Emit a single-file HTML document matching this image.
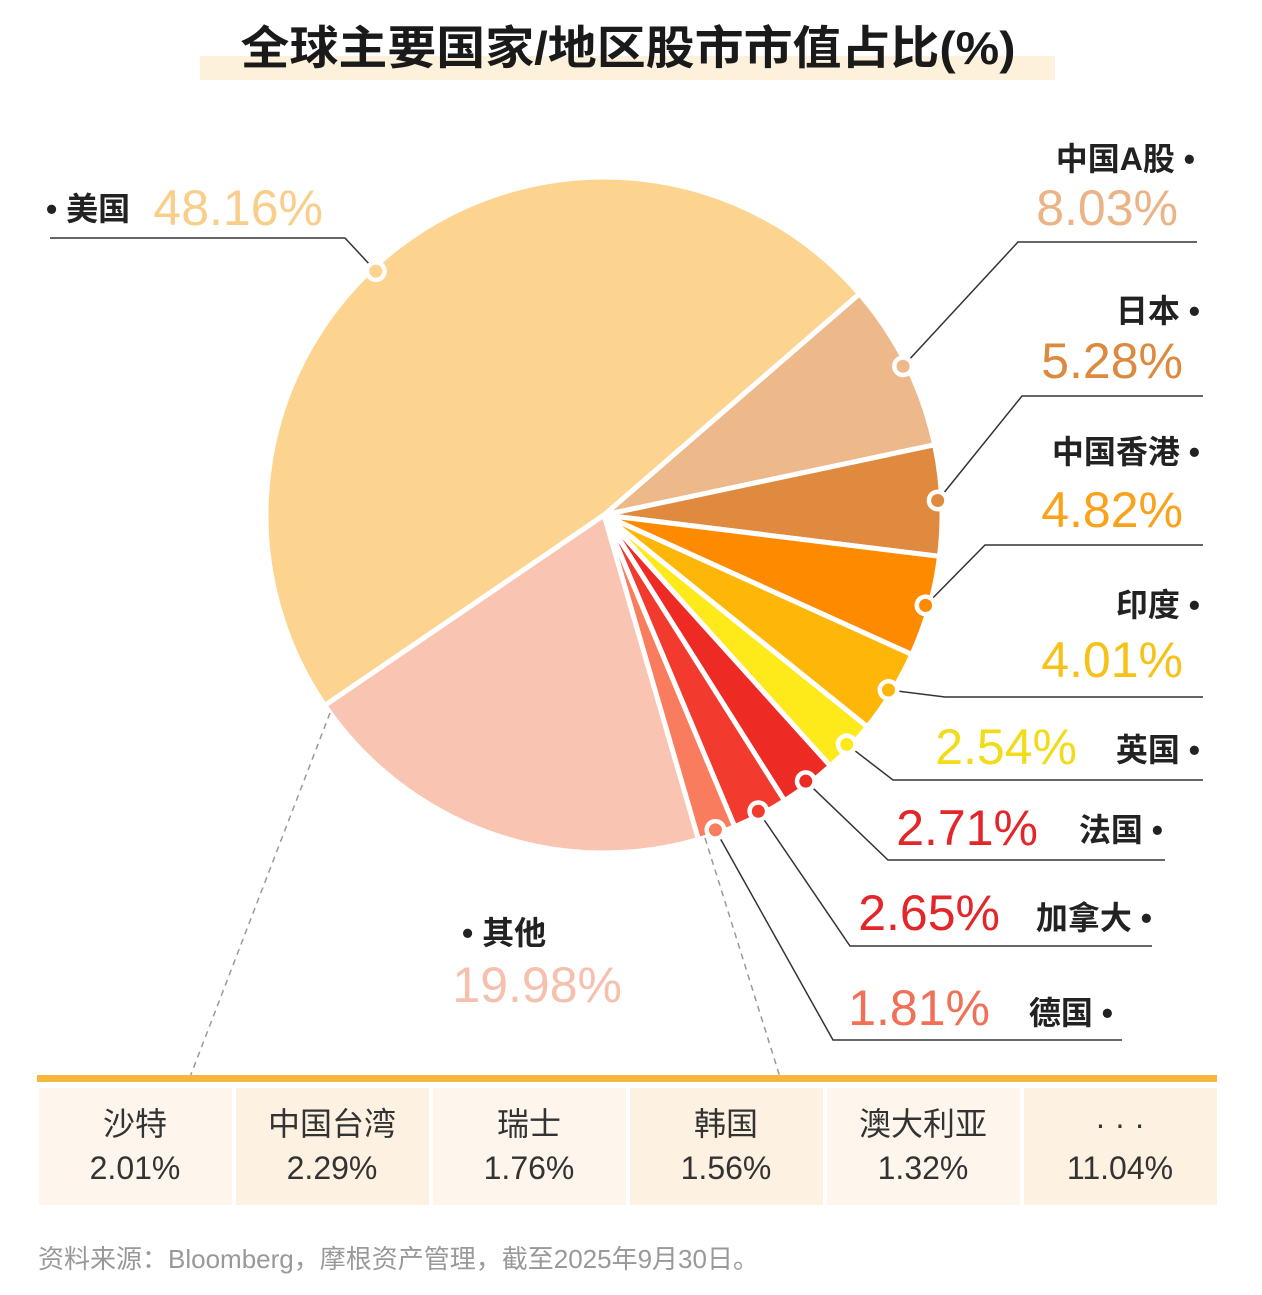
<!DOCTYPE html>
<html><head><meta charset="utf-8">
<style>
body{margin:0;background:#fff;width:1262px;height:1290px;overflow:hidden;font-family:"Liberation Sans","Noto Sans CJK SC",sans-serif;}
svg text{font-family:"Liberation Sans","Noto Sans CJK SC",sans-serif;}
</style></head>
<body>
<svg id="chart" width="1262" height="1290" viewBox="0 0 1262 1290" xmlns="http://www.w3.org/2000/svg">
<rect x="200" y="56" width="855" height="24" fill="#FDF1DC"/>
<text x="628" y="64" text-anchor="middle" font-size="46" font-weight="bold" fill="#1a1a1a" textLength="775" lengthAdjust="spacingAndGlyphs">全球主要国家/地区股市市值占比(%)</text>
<g id="slices"></g>
<g id="leaders"></g>
<g id="labels"></g>
<line x1="330" y1="713" x2="190" y2="1077" stroke="#999" stroke-width="1.5" stroke-dasharray="6,5"/>
<line x1="705" y1="838" x2="780" y2="1077" stroke="#999" stroke-width="1.5" stroke-dasharray="6,5"/>
<rect x="37" y="1075" width="1180" height="7" fill="#F6B73C"/>
<g id="table"></g>
<text x="38" y="1268" font-size="26" fill="#999">资料来源：Bloomberg，摩根资产管理，截至2025年9月30日。</text>
</svg>
<script>
const categories=["中国A股","日本","中国香港","印度","英国","法国","加拿大","德国","其他","美国"];
const values=[8.03,5.28,4.82,4.01,2.54,2.71,2.65,1.81,19.98,48.16];
const sliceColors=["#EEB98A","#DF8A3F","#FE8A00","#FEB608","#FEEA1A","#EE2A25","#F23A2E","#F97C5E","#F9C4B2","#FCD48F"];
const valueColors=["#EBB486","#DC8A40","#F9A21A","#F6C21A","#F2DC1A","#E3262A","#E3262A","#F07058","#F5C0AE","#F8CE8A"];
const tableCats=["沙特","中国台湾","瑞士","韩国","澳大利亚","· · ·"];
const tableVals=[2.01,2.29,1.76,1.56,1.32,11.04];
const NS="http://www.w3.org/2000/svg";
const cx=604,cy=515,R=338,startDeg=-40.9;
const dotShift=[0,0,0,0,0,0,0,0,0,-5.5];
function mk(t,a,p){const e=document.createElementNS(NS,t);for(const k in a)e.setAttribute(k,a[k]);p.appendChild(e);return e;}
function pt(deg,r){const a=deg*Math.PI/180;return [cx+r*Math.cos(a),cy+r*Math.sin(a)];}
const total=values.reduce((a,b)=>a+b,0);
const sg=document.getElementById('slices');
let ang=startDeg;const mids=[];
values.forEach((v,i)=>{
 const sweep=v/total*360;const a0=ang,a1=ang+sweep;
 const p0=pt(a0,R),p1=pt(a1,R);
 const d=`M${cx},${cy}L${p0[0]},${p0[1]}A${R},${R} 0 ${sweep>180?1:0} 1 ${p1[0]},${p1[1]}Z`;
 const p=mk('path',{d:d,fill:sliceColors[i],stroke:'#fff','stroke-width':5,'stroke-linejoin':'round'},sg);
 
 
 mids.push((a0+a1)/2+dotShift[i]);ang=a1;
});
const bends=[[1018,242,1197],[1022,396,1203],[985,545,1203],[945,697,1203],[893,780,1203],[888,860,1165],[850,946,1152],[833,1040,1122],null,[345,238,50]];
const lg=document.getElementById('leaders');
mids.forEach((m,i)=>{
 if(!bends[i])return;
 const d=pt(m,R-4);const b=bends[i];
 const l=mk('polyline',{points:`${d[0]},${d[1]} ${b[0]},${b[1]} ${b[2]},${b[1]}`,fill:'none',stroke:'#333','stroke-width':1.5},lg);
 
 
});
mids.forEach((m,i)=>{
 if(!bends[i])return;
 const d=pt(m,R-4);
 const c=mk('circle',{cx:d[0],cy:d[1],r:11,fill:'#fff'},lg);
 
 
 const c2=mk('circle',{cx:d[0],cy:d[1],r:6.5,fill:sliceColors[i]},lg);
 
 
});
const pos=[[1195,170,'end',1178,225,'end'],[1200,322,'end',1183,378,'end'],[1200,463,'end',1183,527,'end'],[1200,616,'end',1183,677,'end'],[1200,761,'end',1077,764,'end'],[1163,841,'end',1038,845,'end'],[1152,929,'end',1000,930,'end'],[1113,1024,'end',990,1025,'end'],[462,944,'start',622,1002,'end'],[46,220,'start',323,225,'end']];
const lb=document.getElementById('labels');
categories.forEach((c,i)=>{
 const p=pos[i];const dot=i>=8;
 const t=mk('text',{x:p[0],y:p[1],'text-anchor':p[2],'font-size':32,'font-weight':'bold',fill:'#222'},lb);
 t.textContent=dot?'• '+c:c+' •';
 
 
 const v=mk('text',{x:p[3],y:p[4],'text-anchor':p[5],'font-size':50,fill:valueColors[i]},lb);
 v.textContent=values[i].toFixed(2)+'%';
 
 
});
const tg=document.getElementById('table');
tableCats.forEach((c,i)=>{
 const x=37+i*197;
 const r=mk('rect',{x:x+2,y:1088,width:193,height:117,fill:i%2?'#FDF1E2':'#FEF6EC'},tg);
 
 
 const t=mk('text',{x:x+98,y:1135,'text-anchor':'middle','font-size':32,fill:'#333'},tg);
 t.textContent=c;
 
 
 const v=mk('text',{x:x+98,y:1179,'text-anchor':'middle','font-size':32,fill:'#333'},tg);
 v.textContent=tableVals[i].toFixed(2)+'%';
 
 
});
</script>
</body></html>
